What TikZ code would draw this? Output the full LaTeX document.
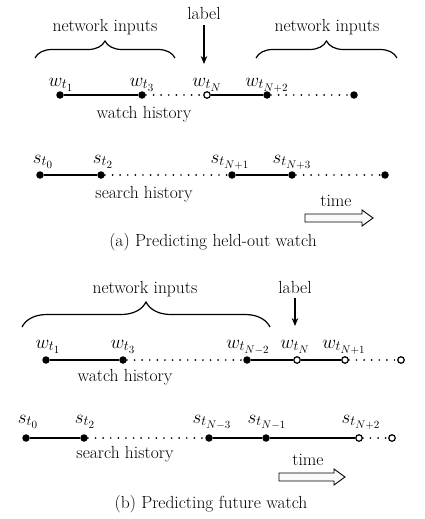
\RequirePackage{fix-cm}
\documentclass[tikz,border=0pt]{standalone}
\DeclareMathSizes{17.5}{17.5}{12.5}{10}
\DeclareMathSizes{19}{19}{14}{11}
\usetikzlibrary{decorations.pathreplacing,arrows.meta}
\begin{document}
\begin{tikzpicture}[x=1pt,y=-1pt,
  every node/.style={font=\fontsize{17.5}{20}\selectfont,inner sep=0pt},
  dot/.style={circle,fill=black,inner sep=0pt,minimum size=7.5pt},
  odot/.style={circle,draw=black,fill=white,line width=1.2pt,inner sep=0pt,minimum size=6.5pt},
  seg/.style={line width=1.3pt},
  dotline/.style={line width=1.9pt,line cap=round,dash pattern=on 0pt off 7.6pt},
  lbl/.style={anchor=base},
  mlbl/.style={anchor=base,font=\fontsize{19}{22}\selectfont},
  mybrace/.style={line width=1.2pt,decorate,decoration={brace,amplitude=#1}},
  downarrow/.style={line width=1.2pt,-{Stealth[length=8pt,width=6.5pt]}},
  timearrow/.style={line width=0.9pt,fill=gray!4}]
\useasboundingbox (0,0) rectangle (425,519);

% ---------------- (a) ----------------
\node[lbl] (niA1) at (105,32) {network inputs};
\node[lbl] (niA2) at (327,32) {network inputs};
\draw[mybrace=17pt] (35,58) -- (175,58);
\draw[mybrace=17pt] (256,58) -- (397,58);
\node[lbl] (labA) at (204,20) {label};
\coordinate (labAend) at (204,64);
\draw[downarrow] (labA.south) ++(0,5) -- (labAend);

\node[dot] (a1) at (60,95) {};
\node[dot] (a2) at (142,95) {};
\node[odot] (a3) at (207,95) {};
\node[dot] (a4) at (267,95) {};
\node[dot] (a5) at (354,95) {};
\draw[seg] (a1) -- (a2);
\draw[dotline] (a2) -- (a3);
\draw[seg] (a3) -- (a4);
\draw[dotline] (a4) -- (a5);
\node[mlbl] (wa1) at (61,86) {$w_{t_1}$};
\node[mlbl] (wa2) at (142,86) {$w_{t_3}$};
\node[mlbl] (wa3) at (207,86) {$w_{t_N}$};
\node[mlbl] (wa4) at (267,86) {$w_{t_{N+2}}$};
\node[lbl] (whA) at (144,118) {watch history};

\node[dot] (b1) at (40,175) {};
\node[dot] (b2) at (101,175) {};
\node[dot] (b3) at (232,175) {};
\node[dot] (b4) at (292,175) {};
\node[dot] (b5) at (385,175) {};
\draw[seg] (b1) -- (b2);
\draw[dotline] (b2) -- (b3);
\draw[seg] (b3) -- (b4);
\draw[dotline] (b4) -- (b5);
\node[mlbl] (sa1) at (43,163) {$s_{t_0}$};
\node[mlbl] (sa2) at (103,163) {$s_{t_2}$};
\node[mlbl] (sa3) at (230,163) {$s_{t_{N+1}}$};
\node[mlbl] (sa4) at (292,163) {$s_{t_{N+3}}$};
\node[lbl] (shA) at (144,198) {search history};

\node[lbl] (timeA) at (336,206) {time};
\draw[timearrow] (305,214) -- (362,214) -- (362,210) -- (373,218) -- (362,226) -- (362,222) -- (305,222) -- cycle;
\node[lbl] (capA) at (213,246) {(a) Predicting held-out watch};

% ---------------- (b) ----------------
\node[lbl] (niB) at (145,293) {network inputs};
\draw[mybrace=25pt] (22,327) -- (270,327);
\node[lbl] (labB) at (295,293) {label};
\coordinate (labBend) at (295,326);
\draw[downarrow] (labB.south) ++(0,5) -- (labBend);

\node[dot] (c1) at (46,360) {};
\node[dot] (c2) at (123,360) {};
\node[dot] (c3) at (247,360) {};
\node[odot] (c4) at (297,360) {};
\node[odot] (c5) at (345,360) {};
\node[odot] (c6) at (401,360) {};
\draw[seg] (c1) -- (c2);
\draw[dotline] (c2) -- (c3);
\draw[seg] (c3) -- (c4);
\draw[seg] (c4) -- (c5);
\draw[dotline] (c5) -- (c6);
\node[mlbl] (wb1) at (48,348) {$w_{t_1}$};
\node[mlbl] (wb2) at (123,348) {$w_{t_3}$};
\node[mlbl] (wb3) at (248,348) {$w_{t_{N-2}}$};
\node[mlbl] (wb4) at (295,348) {$w_{t_N}$};
\node[mlbl] (wb5) at (344,348) {$w_{t_{N+1}}$};
\node[lbl] (whB) at (125,381) {watch history};

\node[dot] (d1) at (26,438) {};
\node[dot] (d2) at (84,438) {};
\node[dot] (d3) at (209,438) {};
\node[dot] (d4) at (266,438) {};
\node[odot] (d5) at (359,438) {};
\node[odot] (d6) at (392,438) {};
\draw[seg] (d1) -- (d2);
\draw[dotline] (d2) -- (d3);
\draw[seg] (d3) -- (d4);
\draw[seg] (d4) -- (d5);
\draw[dotline] (d5) -- (d6);
\node[mlbl] (sb1) at (28,423) {$s_{t_0}$};
\node[mlbl] (sb2) at (85,423) {$s_{t_2}$};
\node[mlbl] (sb3) at (212,423) {$s_{t_{N-3}}$};
\node[mlbl] (sb4) at (267,423) {$s_{t_{N-1}}$};
\node[mlbl] (sb5) at (361,423) {$s_{t_{N+2}}$};
\node[lbl] (shB) at (125,458) {search history};

\node[lbl] (timeB) at (308,465) {time};
\draw[timearrow] (279,473) -- (334,473) -- (334,469) -- (345,477) -- (334,485) -- (334,481) -- (279,481) -- cycle;
\node[lbl] (capB) at (211,508) {(b) Predicting future watch};
\end{tikzpicture}
\end{document}
